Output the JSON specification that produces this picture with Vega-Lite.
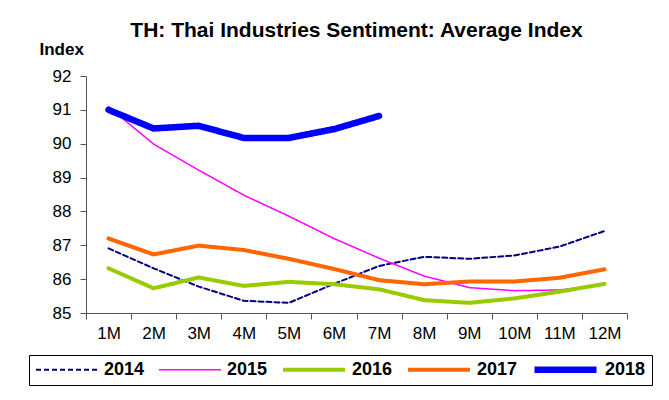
{
  "$schema": "https://vega.github.io/schema/vega-lite/v6.json",
  "width": 541,
  "height": 237,
  "autosize": {"type": "none"},
  "padding": {"left": 86, "top": 76, "right": 42, "bottom": 87},
  "background": "white",
  "title": {
    "text": "TH: Thai Industries Sentiment: Average Index",
    "font": "Liberation Sans",
    "fontSize": 21,
    "fontWeight": "bold",
    "color": "black",
    "anchor": "middle",
    "frame": "group",
    "offset": -1
  },
  "data": {
    "values": [
      {"m": "1M", "y": "2014", "v": 86.91}, {"m": "2M", "y": "2014", "v": 86.32}, {"m": "3M", "y": "2014", "v": 85.78}, {"m": "4M", "y": "2014", "v": 85.36}, {"m": "5M", "y": "2014", "v": 85.3}, {"m": "6M", "y": "2014", "v": 85.86}, {"m": "7M", "y": "2014", "v": 86.39}, {"m": "8M", "y": "2014", "v": 86.66}, {"m": "9M", "y": "2014", "v": 86.6}, {"m": "10M", "y": "2014", "v": 86.7}, {"m": "11M", "y": "2014", "v": 86.96}, {"m": "12M", "y": "2014", "v": 87.42},
      {"m": "1M", "y": "2015", "v": 91.09}, {"m": "2M", "y": "2015", "v": 89.99}, {"m": "3M", "y": "2015", "v": 89.22}, {"m": "4M", "y": "2015", "v": 88.48}, {"m": "5M", "y": "2015", "v": 87.86}, {"m": "6M", "y": "2015", "v": 87.2}, {"m": "7M", "y": "2015", "v": 86.62}, {"m": "8M", "y": "2015", "v": 86.09}, {"m": "9M", "y": "2015", "v": 85.75}, {"m": "10M", "y": "2015", "v": 85.66}, {"m": "11M", "y": "2015", "v": 85.68}, {"m": "12M", "y": "2015", "v": 85.83},
      {"m": "1M", "y": "2016", "v": 86.32}, {"m": "2M", "y": "2016", "v": 85.73}, {"m": "3M", "y": "2016", "v": 86.05}, {"m": "4M", "y": "2016", "v": 85.8}, {"m": "5M", "y": "2016", "v": 85.92}, {"m": "6M", "y": "2016", "v": 85.85}, {"m": "7M", "y": "2016", "v": 85.7}, {"m": "8M", "y": "2016", "v": 85.38}, {"m": "9M", "y": "2016", "v": 85.3}, {"m": "10M", "y": "2016", "v": 85.43}, {"m": "11M", "y": "2016", "v": 85.63}, {"m": "12M", "y": "2016", "v": 85.86},
      {"m": "1M", "y": "2017", "v": 87.2}, {"m": "2M", "y": "2017", "v": 86.73}, {"m": "3M", "y": "2017", "v": 86.99}, {"m": "4M", "y": "2017", "v": 86.86}, {"m": "5M", "y": "2017", "v": 86.6}, {"m": "6M", "y": "2017", "v": 86.3}, {"m": "7M", "y": "2017", "v": 85.97}, {"m": "8M", "y": "2017", "v": 85.85}, {"m": "9M", "y": "2017", "v": 85.93}, {"m": "10M", "y": "2017", "v": 85.93}, {"m": "11M", "y": "2017", "v": 86.04}, {"m": "12M", "y": "2017", "v": 86.29},
      {"m": "1M", "y": "2018", "v": 91.0}, {"m": "2M", "y": "2018", "v": 90.45}, {"m": "3M", "y": "2018", "v": 90.53}, {"m": "4M", "y": "2018", "v": 90.17}, {"m": "5M", "y": "2018", "v": 90.17}, {"m": "6M", "y": "2018", "v": 90.43}, {"m": "7M", "y": "2018", "v": 90.82}
    ]
  },
  "mark": {"type": "line", "strokeCap": "round", "strokeJoin": "round"},
  "encoding": {
    "x": {
      "field": "m", "type": "ordinal", "sort": null,
      "scale": {"type": "band", "paddingInner": 0, "paddingOuter": 0},
      "axis": {"title": null, "labelAngle": 0, "tickBand": "extent", "labelFontSize": 17, "labelPadding": 6}
    },
    "y": {
      "field": "v", "type": "quantitative",
      "scale": {"domain": [85, 92], "nice": false, "zero": false},
      "axis": {
        "values": [85, 86, 87, 88, 89, 90, 91, 92],
        "title": "Index", "titleAngle": 0, "titleAlign": "left", "titleBaseline": "alphabetic",
        "titleX": -47, "titleY": -22, "titleFontSize": 17, "titleFontWeight": "bold",
        "labelFontSize": 17, "labelPadding": 9
      }
    },
    "color": {
      "field": "y", "type": "ordinal",
      "scale": {"type": "ordinal", "domain": ["2014", "2015", "2016", "2017", "2018"], "range": ["#000080", "#FF00FF", "#99CC00", "#FF6600", "#0000FF"]},
      "legend": {"title": null}
    },
    "strokeDash": {
      "field": "y", "type": "ordinal",
      "scale": {"type": "ordinal", "domain": ["2014", "2015", "2016", "2017", "2018"], "range": [[5, 3], [1, 0], [1, 0], [1, 0], [1, 0]]},
      "legend": {"title": null}
    },
    "strokeWidth": {
      "field": "y", "type": "ordinal",
      "scale": {"type": "ordinal", "domain": ["2014", "2015", "2016", "2017", "2018"], "range": [2, 1.5, 4, 4, 6.5]},
      "legend": {"title": null}
    }
  },
  "config": {
    "font": "Liberation Sans",
    "view": {"stroke": null},
    "axis": {
      "grid": false,
      "domainColor": "#555555",
      "tickColor": "#555555",
      "tickSize": 6,
      "labelColor": "black",
      "titleColor": "black",
      "labelFont": "Liberation Sans",
      "titleFont": "Liberation Sans"
    },
    "legend": {
      "orient": "none",
      "legendX": -57,
      "legendY": 279,
      "direction": "horizontal",
      "strokeColor": "#000000",
      "padding": 6,
      "symbolType": "stroke",
      "symbolSize": 3844,
      "clipHeight": 17,
      "labelFontSize": 18,
      "labelFontWeight": "bold",
      "labelColor": "black",
      "labelOffset": 5,
      "columnPadding": 13
    }
  }
}
